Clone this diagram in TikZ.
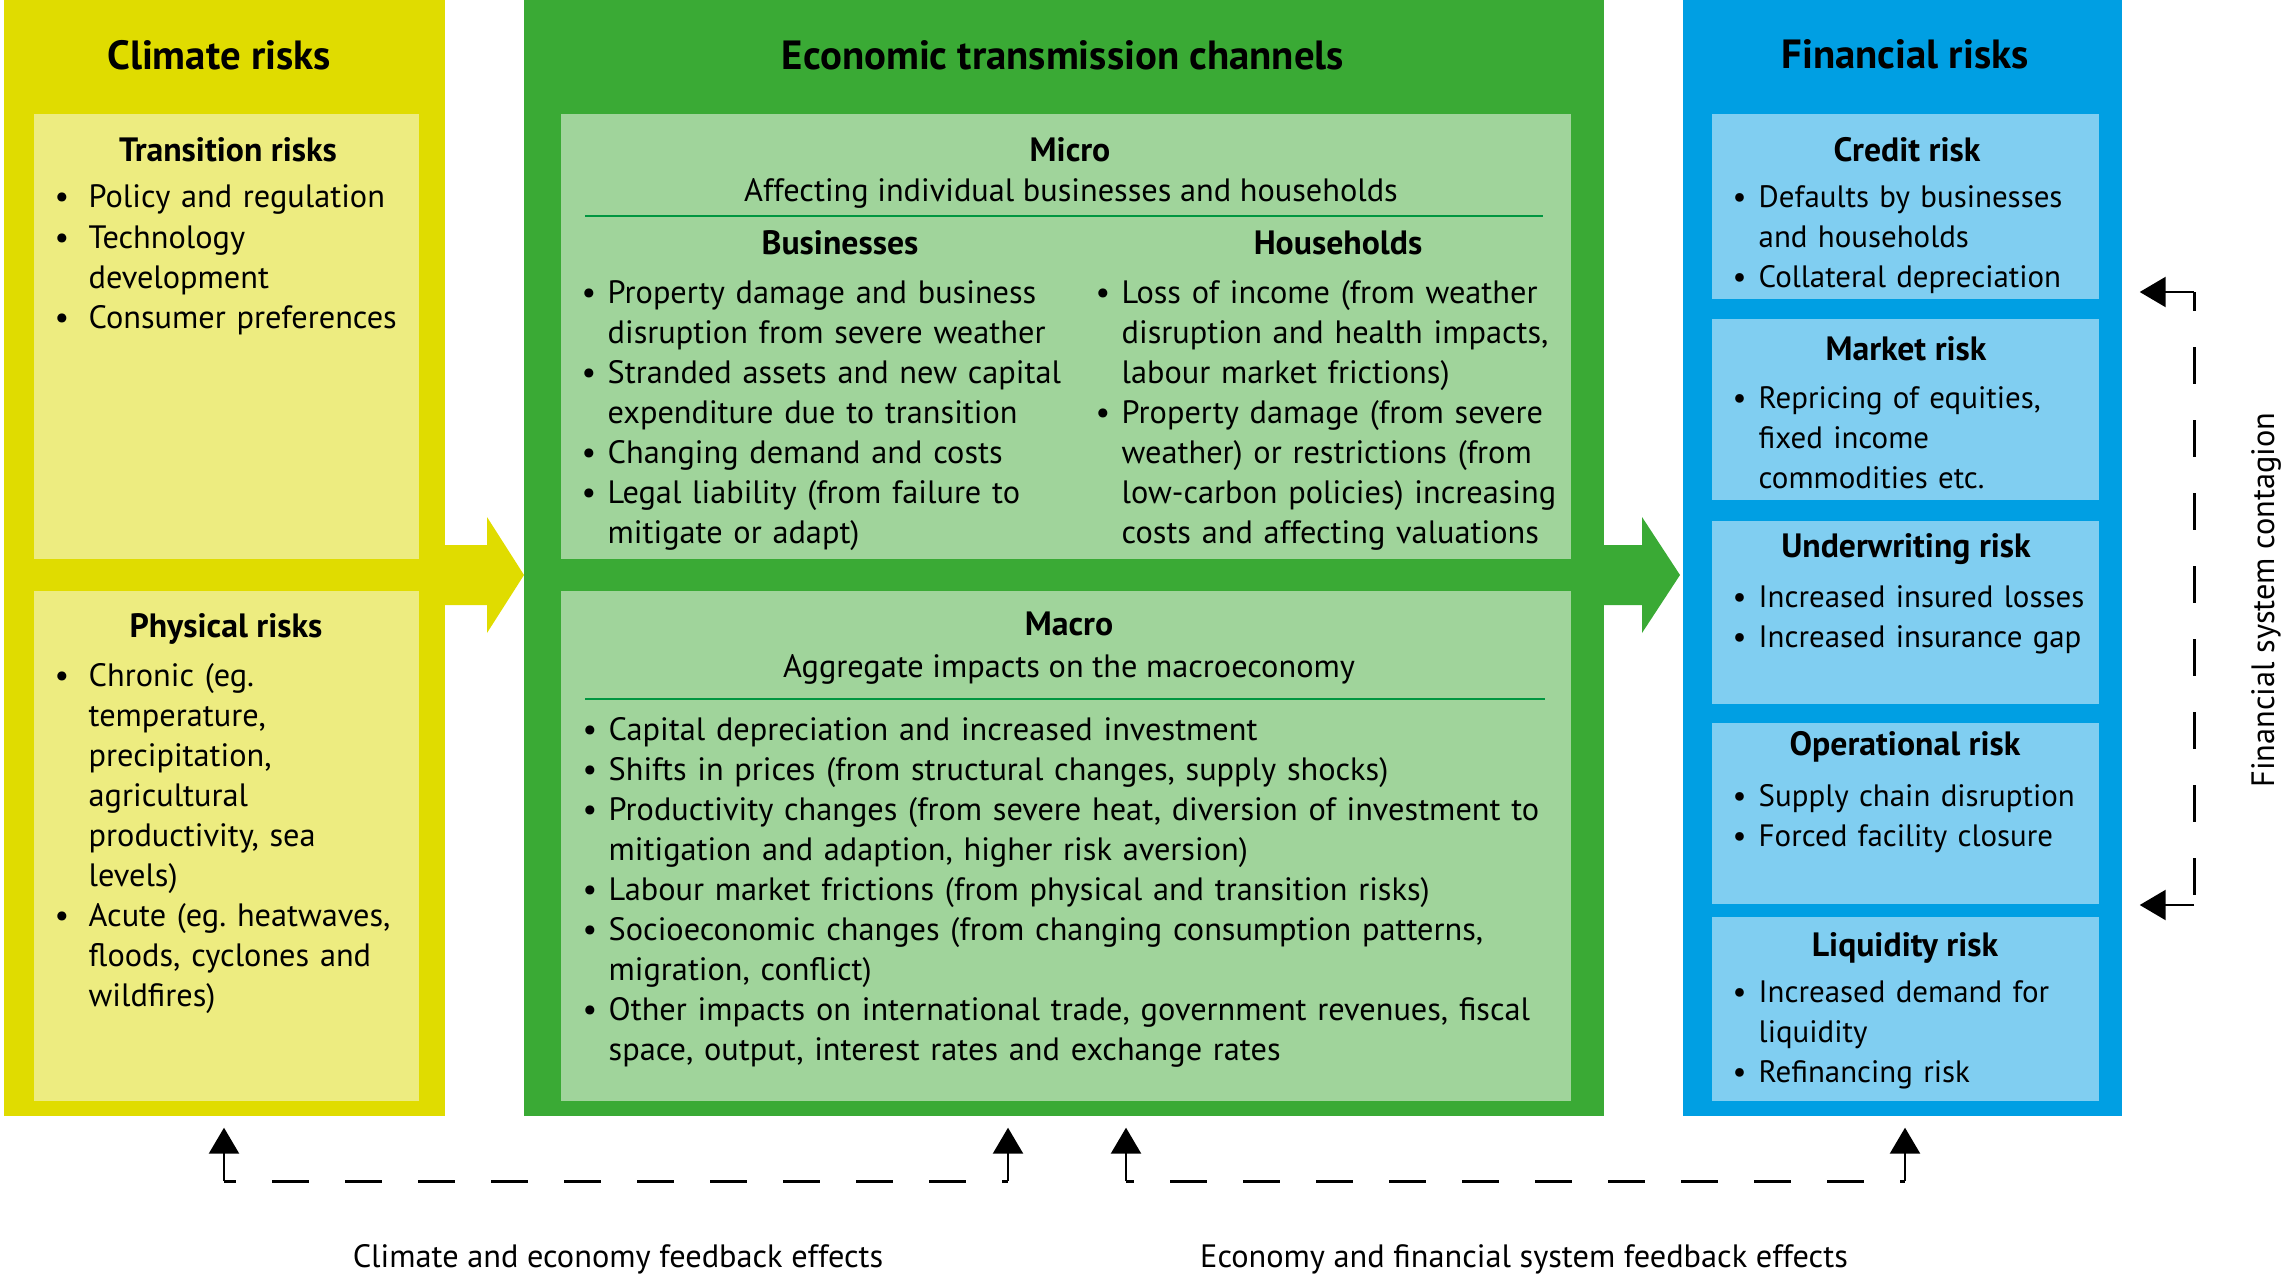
\documentclass[tikz,border=0pt]{standalone}
\usepackage{fontspec}
\setmainfont{PT Sans}
\frenchspacing
\usetikzlibrary{arrows.meta}
\usetikzlibrary{positioning}

\definecolor{climateouter}{RGB}{224,220,0}
\definecolor{climateinner}{RGB}{237,236,128}
\definecolor{econouter}{RGB}{58,170,53}
\definecolor{econinner}{RGB}{160,212,155}
\definecolor{econrule}{RGB}{0,150,64}
\definecolor{finouter}{RGB}{0,159,227}
\definecolor{fininner}{RGB}{128,206,241}

% bullet lines: \bl starts an item, \cl continues it
\newlength{\bulletindent}
\setlength{\bulletindent}{2.6mm}
\newcommand{\bl}{\makebox[\bulletindent][l]{\textbullet}}
\newcommand{\cl}{\hspace*{\bulletindent}}
\newcommand{\bodyfont}{\fontsize{9.2}{11.4}\selectfont}
\newcommand{\finfont}{\fontsize{8.8}{11.4}\selectfont}

\tikzset{
    box/.style={rectangle, inner sep=0pt, draw=none},
    boxtitle/.style={anchor=base, inner sep=0pt, font={\fontsize{11.6}{14}\selectfont\bfseries}},
    subtitle/.style={anchor=base, inner sep=0pt, font={\fontsize{9.6}{11.4}\selectfont\bfseries}},
    plain/.style={anchor=base, inner sep=0pt, font=\bodyfont},
    itemlist/.style={anchor=base west, inner sep=0pt, align=left, font=\bodyfont, text width=#1},
    itemlist/.default=40mm,
    finlist/.style={itemlist=37mm, font=\finfont},
    fbline/.style={line width=0.85pt, dash pattern=on 3.7mm off 3.6mm},
    fbarrow/.style={line width=0.7pt, -{Triangle[length=2.6mm,width=3mm]}},
}

\begin{document}
\begin{tikzpicture}[x=0.1mm,y=-0.1mm]
\useasboundingbox (0,0) rectangle (2287,1275);

% columns
\node (climate) [box, fill=climateouter, minimum width=44.1mm, minimum height=111.6mm] at (224.5,558) {};
\node (econ) [box, fill=econouter, minimum width=108mm, minimum height=111.6mm] at (1064,558) {};
\node (fin) [box, fill=finouter, minimum width=43.9mm, minimum height=111.6mm] at (1902.5,558) {};

% arrows between the columns
\fill [climateouter] (440,545) -- (487,545) -- (487,517) -- (524,575)
    -- (487,633) -- (487,605) -- (440,605) -- cycle;
\fill [econouter] (1600,545) -- (1642,545) -- (1642,517) -- (1680,575)
    -- (1642,633) -- (1642,605) -- (1600,605) -- cycle;

\node (climate-title) [boxtitle] at (219,70) {Climate risks};
\node (econ-title) [boxtitle] at (1063,70) {Economic transmission channels};
\node (fin-title) [boxtitle] at (1905,69) {Financial risks};

% climate risks
\node (trans) [box, fill=climateinner, minimum width=38.5mm, minimum height=44.5mm] at (226.5,336.5) {};
\node (phys) [box, fill=climateinner, minimum width=38.5mm, minimum height=51mm] at (226.5,846) {};
\node (trans-title) [subtitle] at (228,162) {Transition risks};
\node (trans-list) [itemlist=36mm] at (54,208) {%
    \setlength{\bulletindent}{3.4mm}%
    \bl Policy and regulation\\
    \bl Technology\\ \cl development\\
    \bl Consumer preferences};
\node (phys-title) [subtitle] at (226,637) {Physical risks};
\node (phys-list) [itemlist=36mm] at (54,686) {%
    \setlength{\bulletindent}{3.4mm}%
    \bl Chronic (eg.\\ \cl temperature,\\ \cl precipitation,\\
    \cl agricultural\\ \cl productivity, sea\\ \cl levels)\\
    \bl Acute (eg. heatwaves,\\ \cl floods, cyclones and\\ \cl wildfires)};

% economic transmission channels
\node (micro) [box, fill=econinner, minimum width=101mm, minimum height=44.5mm] at (1066,336.5) {};
\node (macro) [box, fill=econinner, minimum width=101mm, minimum height=51mm] at (1066,846) {};
\node (micro-title) [subtitle] at (1070,162) {Micro};
\node (micro-sub) [plain] at (1071,202) {Affecting individual businesses and households};
\draw [econrule, line width=0.8pt] (585,216) -- (1543,216);
\node (bus-title) [subtitle] at (840,254) {Businesses};
\node (hh-title) [subtitle] at (1338,254) {Households};
\node (bus-list) [itemlist=50mm] at (581,303) {%
    \bl Property damage and business\\ \cl disruption from severe weather\\
    \bl Stranded assets and new capital\\ \cl expenditure due to transition\\
    \bl Changing demand and costs\\
    \bl Legal liability (from failure to\\ \cl mitigate or adapt)};
\node (hh-list) [itemlist=47mm] at (1095,303) {%
    \bl Loss of income (from weather\\ \cl disruption and health impacts,\\
    \cl labour market frictions)\\
    \bl Property damage (from severe\\ \cl weather) or restrictions (from\\
    \cl low-carbon policies) increasing\\ \cl costs and affecting valuations};
\node (macro-title) [subtitle] at (1069,635) {Macro};
\node (macro-sub) [plain] at (1069,677) {Aggregate impacts on the macroeconomy};
\draw [econrule, line width=0.8pt] (585,699) -- (1545,699);
\node (macro-list) [itemlist=98mm] at (582,740) {%
    \bl Capital depreciation and increased investment\\
    \bl Shifts in prices (from structural changes, supply shocks)\\
    \bl Productivity changes (from severe heat, diversion of investment to\\
    \cl mitigation and adaption, higher risk aversion)\\
    \bl Labour market frictions (from physical and transition risks)\\
    \bl Socioeconomic changes (from changing consumption patterns,\\
    \cl migration, conflict)\\
    \bl Other impacts on international trade, government revenues, fiscal\\
    \cl space, output, interest rates and exchange rates};

% financial risks
\node (credit) [box, fill=fininner, minimum width=38.7mm, minimum height=18.5mm] at (1905.5,206.5) {};
\node (market) [box, fill=fininner, minimum width=38.7mm, minimum height=18.1mm] at (1905.5,409.5) {};
\node (uw) [box, fill=fininner, minimum width=38.7mm, minimum height=18.3mm] at (1905.5,612.5) {};
\node (oper) [box, fill=fininner, minimum width=38.7mm, minimum height=18.1mm] at (1905.5,813.5) {};
\node (liq) [box, fill=fininner, minimum width=38.7mm, minimum height=18.4mm] at (1905.5,1009) {};
\node (credit-title) [subtitle] at (1907,162) {Credit risk};
\node (credit-list) [finlist] at (1732,207) {%
    \bl Defaults by businesses\\ \cl and households\\ \bl Collateral depreciation};
\node (market-title) [subtitle] at (1906,360) {Market risk};
\node (market-list) [finlist] at (1732,408) {%
    \bl Repricing of equities,\\ \cl fixed income\\ \cl commodities etc.};
\node (uw-title) [subtitle] at (1906,557) {Underwriting risk};
\node (uw-list) [finlist] at (1732,607) {%
    \bl Increased insured losses\\ \bl Increased insurance gap};
\node (oper-title) [subtitle] at (1905,755) {Operational risk};
\node (oper-list) [finlist] at (1732,806) {%
    \bl Supply chain disruption\\ \bl Forced facility closure};
\node (liq-title) [subtitle] at (1905,956) {Liquidity risk};
\node (liq-list) [finlist] at (1732,1002) {%
    \bl Increased demand for\\ \cl liquidity\\ \bl Refinancing risk};

% feedback effects
\coordinate (fb1) at (224,1181);
\coordinate (fb2) at (1008,1181);
\coordinate (fb3) at (1126,1181);
\coordinate (fb4) at (1905,1181);
\draw [fbline, dash phase=2.5mm] (fb1) -- (fb2);
\draw [fbline, dash phase=2.9mm] (fb3) -- (fb4);
\draw [fbarrow, shorten >=1.1mm] (fb1) -- (fb1 |- climate.south);
\draw [fbarrow, shorten >=1.1mm] (fb2) -- (fb2 |- econ.south);
\draw [fbarrow, shorten >=1.1mm] (fb3) -- (fb3 |- econ.south);
\draw [fbarrow, shorten >=1.1mm] (fb4) -- (fb4 |- fin.south);
\node (fb-left) [plain] at (618,1267) {Climate and economy feedback effects};
\node (fb-right) [plain] at (1524,1267) {Economy and financial system feedback effects};

% contagion inside the financial system
\coordinate (ct) at (2194,292);
\coordinate (cb) at (2194,905);
\draw [fbline, dash phase=1.8mm] (ct) -- (cb);
\draw [fbarrow, shorten >=1.7mm] (ct) -- (ct -| fin.east);
\draw [fbarrow, shorten >=1.7mm] (cb) -- (cb -| fin.east);
\node (contagion) [plain, anchor=center, rotate=90] at (2266,600) {Financial system contagion};
\end{tikzpicture}
\end{document}
